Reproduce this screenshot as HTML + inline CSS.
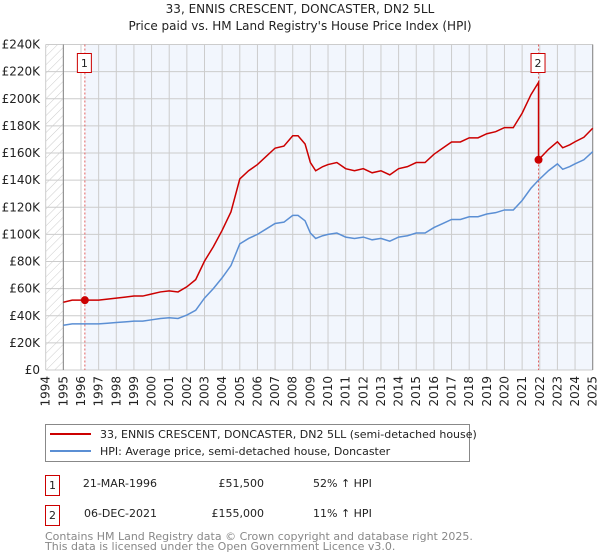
<!DOCTYPE html>
<html><head><meta charset="utf-8"><style>
body{margin:0;background:#fff;font-family:"DejaVu Sans","Liberation Sans",sans-serif;}
svg{display:block}
</style></head><body>
<svg id="chart" width="600" height="560" xmlns="http://www.w3.org/2000/svg" font-family="DejaVu Sans, Liberation Sans, sans-serif">
<defs>
<pattern id="hatch" width="6" height="6" patternUnits="userSpaceOnUse" patternTransform="rotate(45)">
<line x1="0" y1="0" x2="0" y2="6" stroke="#ccc" stroke-width="1"/>
</pattern>
</defs>
<text x="300" y="13" text-anchor="middle" font-size="12" fill="#222">33, ENNIS CRESCENT, DONCASTER, DN2 5LL</text>
<text x="300" y="30" text-anchor="middle" font-size="12" fill="#222">Price paid vs. HM Land Registry's House Price Index (HPI)</text>
<g id="plot"></g>
<g>
<rect x="45.5" y="424.5" width="424" height="37" fill="#fff" stroke="#888"/>
<line x1="50" y1="434" x2="91" y2="434" stroke="#cc0000" stroke-width="2"/>
<text x="100" y="438" font-size="11" fill="#222">33, ENNIS CRESCENT, DONCASTER, DN2 5LL (semi-detached house)</text>
<line x1="50" y1="451" x2="91" y2="451" stroke="#5b8fd4" stroke-width="2"/>
<text x="100" y="455" font-size="11" fill="#222">HPI: Average price, semi-detached house, Doncaster</text>
</g>
<g font-size="11" fill="#222">
<rect x="45.5" y="475.5" width="14" height="20" fill="#fff" stroke="#cc0000"/>
<text x="52.5" y="489" text-anchor="middle">1</text>
<text x="157" y="487" text-anchor="end">21-MAR-1996</text>
<text x="264" y="487" text-anchor="end">£51,500</text>
<text x="313" y="487">52% ↑ HPI</text>
<rect x="45.5" y="505.5" width="14" height="20" fill="#fff" stroke="#cc0000"/>
<text x="52.5" y="519" text-anchor="middle">2</text>
<text x="157" y="517" text-anchor="end">06-DEC-2021</text>
<text x="264" y="517" text-anchor="end">£155,000</text>
<text x="313" y="517">11% ↑ HPI</text>
</g>
<text x="45" y="540" font-size="11" fill="#888">Contains HM Land Registry data © Crown copyright and database right 2025.</text>
<text x="45" y="550" font-size="11" fill="#888">This data is licensed under the Open Government Licence v3.0.</text>
</svg>
<script>
// HPI (thousands £) by year
const years=[1995,1995.5,1996,1996.5,1997,1997.5,1998,1998.5,1999,1999.5,2000,2000.5,2001,2001.5,2002,2002.5,2003,2003.5,2004,2004.5,2005,2005.5,2006,2006.5,2007,2007.5,2008,2008.3,2008.7,2009,2009.3,2009.7,2010,2010.5,2011,2011.5,2012,2012.5,2013,2013.5,2014,2014.5,2015,2015.5,2016,2016.5,2017,2017.5,2018,2018.5,2019,2019.5,2020,2020.5,2021,2021.5,2021.93,2022.5,2023,2023.3,2023.7,2024,2024.5,2025];
const hpi=[33,34,34,34,34,34.5,35,35.5,36,36,37,38,38.5,38,40.5,44,53,60,68,77,93,97,100,104,108,109,114,114,110,101,97,99,100,101,98,97,98,96,97,95,98,99,101,101,105,108,111,111,113,113,115,116,118,118,125,134,140,147,152,148,150,152,155,161];
const sales=[{year:2021.93,price:155,label:"2"},{year:1996.22,price:51.5,label:"1"}];
const yTicks=[0,20,40,60,80,100,120,140,160,180,200,220,240];
const xTicks=[];for(let y=1994;y<=2025;y++)xTicks.push(y);

const X0=45.7,X1=592.7,Y0=370,Y1=44.5;
const xs=y=>X0+(y-1994)/(2025-1994)*(X1-X0);
const ys=v=>Y0-v/240*(Y0-Y1);
const NS="http://www.w3.org/2000/svg";
const g=document.getElementById('plot');
function mk(t,a){const e=document.createElementNS(NS,t);for(const k in a)e.setAttribute(k,a[k]);g.appendChild(e);return e;}

let e;
e=mk('rect',{x:X0,y:Y1,width:xs(1995)-X0,height:Y0-Y1,fill:'url(#hatch)'});


e=mk('rect',{x:xs(1995),y:Y1,width:X1-xs(1995),height:Y0-Y1,fill:'#f2f6fd'});


e=mk('rect',{x:xs(1995),y:Y1,width:xs(1996.22)-xs(1995),height:Y0-Y1,fill:'#fff'});



yTicks.forEach(v=>{
  e=mk('line',{x1:X0,x2:X1,y1:ys(v),y2:ys(v),stroke:'#ccc','stroke-width':1});
  
  
  e=mk('text',{x:40,y:ys(v)+4,'text-anchor':'end','font-size':12,fill:'#222'});
  e.textContent=v===0?'£0':'£'+v+'K';
  
  
});
xTicks.forEach(y=>{
  e=mk('line',{x1:xs(y),x2:xs(y),y1:Y1,y2:Y0,stroke:'#ccc','stroke-width':1});
  
  
  e=mk('text',{x:0,y:0,'text-anchor':'end','font-size':12,fill:'#222',transform:`translate(${xs(y)+4},376) rotate(-90)`});
  e.textContent=y;
  
  
});
e=mk('line',{x1:xs(1995),x2:xs(1995),y1:Y1,y2:Y0,stroke:'#888','stroke-width':1});


e=mk('line',{x1:X1,x2:X1,y1:Y1,y2:Y0,stroke:'#888','stroke-width':1});



sales.forEach(s=>{
  e=mk('line',{x1:xs(s.year),x2:xs(s.year),y1:Y1,y2:Y0,stroke:'#e06060','stroke-width':1,'stroke-dasharray':'2,2'});
  
  
});

e=mk('polyline',{points:years.map((y,i)=>xs(y)+','+ys(hpi[i])).join(' '),fill:'none',stroke:'#5b8fd4','stroke-width':1.5});



function hpiAt(y){for(let i=1;i<years.length;i++){if(y<=years[i]){const t=(y-years[i-1])/(years[i]-years[i-1]);return hpi[i-1]+t*(hpi[i]-hpi[i-1]);}}return hpi[hpi.length-1];}
const s1=sales[1],s2=sales[0];
const r1=s1.price/hpiAt(s1.year),r2=s2.price/hpiAt(s2.year);
let pts=[];
years.forEach((y,i)=>{if(y<s2.year)pts.push([y,hpi[i]*r1]);});
pts.push([s2.year,hpiAt(s2.year)*r1]);
pts.push([s2.year,s2.price]);
years.forEach((y,i)=>{if(y>s2.year)pts.push([y,hpi[i]*r2]);});
e=mk('polyline',{points:pts.map(p=>xs(p[0])+','+ys(p[1])).join(' '),fill:'none',stroke:'#cc0000','stroke-width':1.5});



sales.forEach(s=>{
  e=mk('circle',{cx:xs(s.year),cy:ys(s.price),r:4,fill:'#cc0000'});
  
  
  e=mk('rect',{x:xs(s.year)-7.5,y:53.5,width:14,height:19,fill:'#fff',stroke:'#cc0000'});
  
  
  e=mk('text',{x:xs(s.year)-0.5,y:67,'text-anchor':'middle','font-size':11,fill:'#222'});
  e.textContent=s.label;
  
  
});
</script>
</body></html>
